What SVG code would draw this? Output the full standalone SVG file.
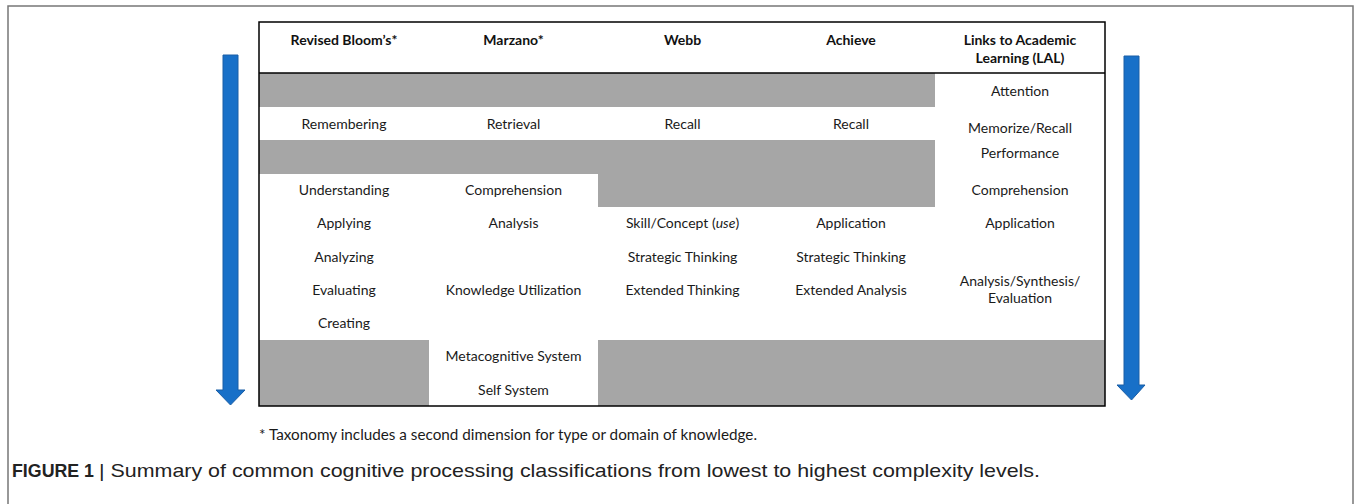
<svg xmlns="http://www.w3.org/2000/svg" width="1356" height="504" viewBox="0 0 1356 504">
<defs>
<style>
.t{font-family:Lato,"Open Sans","Liberation Sans",sans-serif;font-size:14px;fill:#1a1a1a;text-anchor:middle}
.h{font-family:Lato,"Open Sans","Liberation Sans",sans-serif;font-size:14px;font-weight:bold;fill:#111;text-anchor:middle}
.g{fill:#a6a6a6}
.arrow{fill:#1870c8;stroke:#1a5ea6;stroke-width:1}
.fn{font-family:Lato,"Liberation Sans",sans-serif;font-size:14.5px;fill:#1a1a1a}
.cap{font-family:"Liberation Sans",Arial,sans-serif;font-size:19px;fill:#222}
</style>
</defs>
<rect width="1356" height="504" fill="#fff"/>
<path d="M8,504 V6 H1353 V504" fill="none" stroke="#777" stroke-width="1.5"/>

<g id="connectors">
<path class="arrow" d="M223,55 H238 V390 H245 L230.5,405 L216,390 H223 Z"/>
<path class="arrow" d="M1124,56 H1139 V385 H1145 L1131.5,400 L1117,385 H1124 Z"/>
</g>

<g id="table">
<rect x="259" y="22" width="846" height="384" fill="#fff"/>
<rect class="g" x="259" y="73" width="676" height="34"/>
<rect class="g" x="259" y="140" width="339" height="34"/>
<rect class="g" x="598" y="140" width="337" height="67"/>
<rect class="g" x="259" y="340" width="170" height="66"/>
<rect class="g" x="598" y="340" width="507" height="66"/>
<rect x="259" y="22" width="846" height="384" fill="none" stroke="#000" stroke-width="1.5"/>
<line x1="259" y1="73" x2="1105" y2="73" stroke="#000" stroke-width="1.5"/>
</g>

<g id="col-bloom">
<text class="h" x="344" y="45">Revised Bloom’s*</text>
<text class="t" x="344" y="129">Remembering</text>
<text class="t" x="344" y="195">Understanding</text>
<text class="t" x="344" y="228">Applying</text>
<text class="t" x="344" y="262">Analyzing</text>
<text class="t" x="344" y="295">Evaluating</text>
<text class="t" x="344" y="328">Creating</text>
</g>

<g id="col-marzano">
<text class="h" x="513.5" y="45">Marzano*</text>
<text class="t" x="513.5" y="129">Retrieval</text>
<text class="t" x="513.5" y="195">Comprehension</text>
<text class="t" x="513.5" y="228">Analysis</text>
<text class="t" x="513.5" y="295">Knowledge Utilization</text>
<text class="t" x="513.5" y="361">Metacognitive System</text>
<text class="t" x="513.5" y="395">Self System</text>
</g>

<g id="col-webb">
<text class="h" x="682.5" y="45">Webb</text>
<text class="t" x="682.5" y="129">Recall</text>
<text class="t" x="682.5" y="228">Skill/Concept (<tspan font-style="italic">use</tspan>)</text>
<text class="t" x="682.5" y="262">Strategic Thinking</text>
<text class="t" x="682.5" y="295">Extended Thinking</text>
</g>

<g id="col-achieve">
<text class="h" x="851" y="45">Achieve</text>
<text class="t" x="851" y="129">Recall</text>
<text class="t" x="851" y="228">Application</text>
<text class="t" x="851" y="262">Strategic Thinking</text>
<text class="t" x="851" y="295">Extended Analysis</text>
</g>

<g id="col-lal">
<text class="h" x="1020" y="45">Links to Academic</text>
<text class="h" x="1020" y="63">Learning (LAL)</text>
<text class="t" x="1020" y="96">Attention</text>
<text class="t" x="1020" y="133">Memorize/Recall</text>
<text class="t" x="1020" y="158">Performance</text>
<text class="t" x="1020" y="195">Comprehension</text>
<text class="t" x="1020" y="228">Application</text>
<text class="t" x="1020" y="286">Analysis/Synthesis/</text>
<text class="t" x="1020" y="303">Evaluation</text>
</g>

<text class="fn" x="259" y="440" textLength="498" lengthAdjust="spacingAndGlyphs">* Taxonomy includes a second dimension for type or domain of knowledge.</text>
<text class="cap" x="12" y="477" font-weight="bold" textLength="82" lengthAdjust="spacingAndGlyphs">FIGURE 1</text>
<text class="cap" x="99" y="477" textLength="941" lengthAdjust="spacingAndGlyphs">| Summary of common cognitive processing classifications from lowest to highest complexity levels.</text>
</svg>
